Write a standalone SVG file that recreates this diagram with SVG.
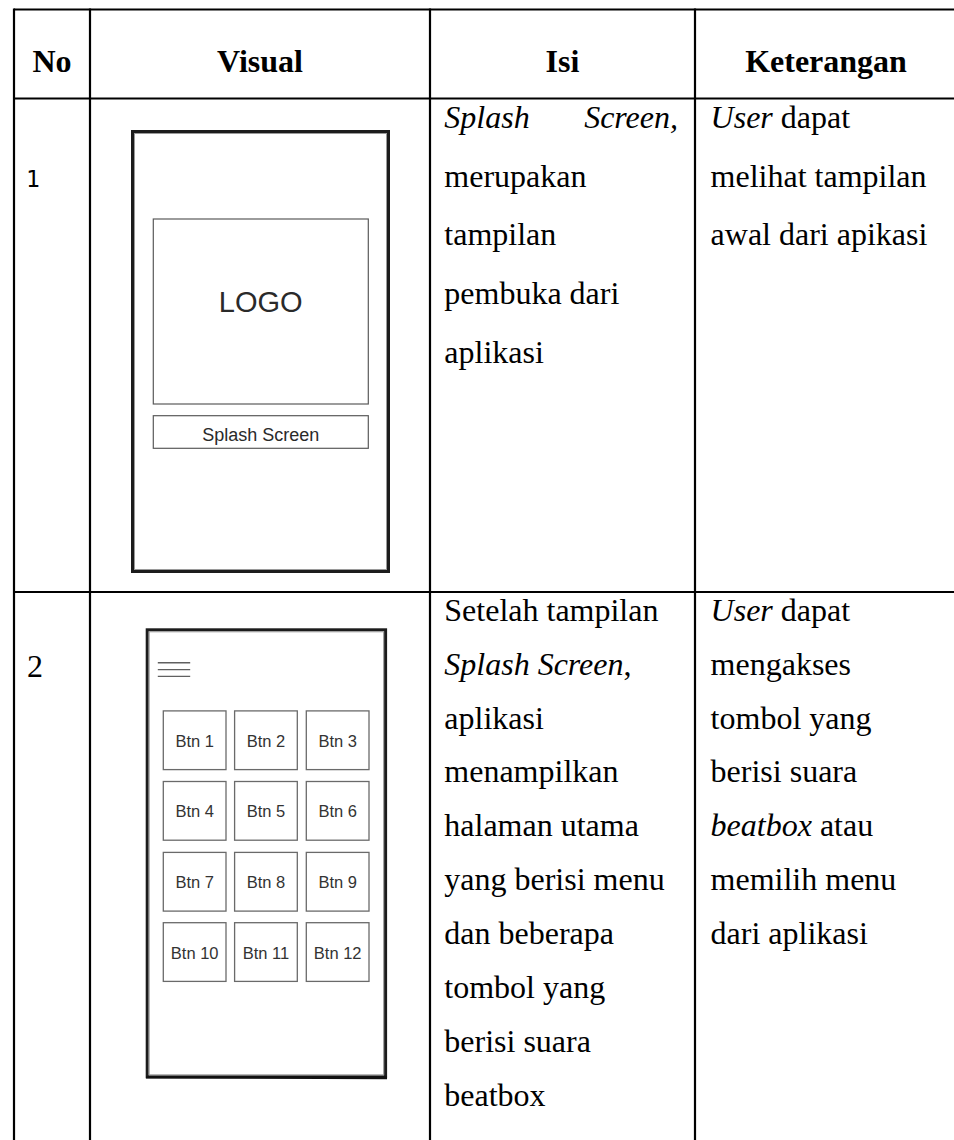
<svg xmlns="http://www.w3.org/2000/svg" width="954" height="1140" viewBox="0 0 954 1140">
  <style>
    .grid { stroke: #000; stroke-width: 2.2; fill: none; }
    .head { font-family: "Liberation Serif", "Times New Roman", serif; font-size: 32px; font-weight: bold; fill: #000; }
    .body { font-family: "Liberation Serif", "Times New Roman", serif; font-size: 32px; fill: #000; }
    .it { font-style: italic; }
    .num1 { font-family: "DejaVu Sans Mono", "Liberation Mono", monospace; font-size: 23px; fill: #000; }
    .frame { fill: #fff; stroke: #1c1c1c; stroke-width: 3; }
    .frameInner { fill: none; stroke: #9a9a9a; stroke-width: 1; }
    .box { fill: #fff; stroke: #5a5a5a; stroke-width: 1.2; }
    .ui { font-family: "Liberation Sans", Arial, sans-serif; fill: #2a2a2a; text-anchor: middle; }
    .btn { fill: #fff; stroke: #6a6a6a; stroke-width: 1.3; }
    .btnText { font-family: "Liberation Sans", Arial, sans-serif; font-size: 16.5px; fill: #333; text-anchor: middle; }
    .menu { stroke: #606060; stroke-width: 1.4; }
  </style>
  <rect width="954" height="1140" fill="#fff"/>

  <!-- table rules -->
  <g id="table-lines" class="grid">
    <line x1="14" y1="9.5" x2="954" y2="9.5"/>
    <line x1="14" y1="98.5" x2="954" y2="98.5"/>
    <line x1="14" y1="592" x2="954" y2="592"/>
    <line x1="14" y1="8.5" x2="14" y2="1140"/>
    <line x1="90" y1="8.5" x2="90" y2="1140"/>
    <line x1="430" y1="8.5" x2="430" y2="1140"/>
    <line x1="695" y1="8.5" x2="695" y2="1140"/>
  </g>

  <!-- header row -->
  <g id="header">
    <text class="head" x="52" y="72" text-anchor="middle">No</text>
    <text class="head" x="260" y="72" text-anchor="middle">Visual</text>
    <text class="head" x="562.5" y="72" text-anchor="middle">Isi</text>
    <text class="head" x="826" y="72" text-anchor="middle">Keterangan</text>
  </g>

  <!-- row 1: splash screen -->
  <g id="row1-no">
    <text class="num1" x="26" y="187">1</text>
  </g>
  <g id="row1-visual">
    <rect class="frame" x="132.5" y="131.5" width="256" height="440"/>
    <rect class="frameInner" x="134.5" y="133.5" width="252" height="436"/>
    <rect class="box" x="153.3" y="219" width="215" height="185"/>
    <text class="ui" x="260.7" y="311.7" font-size="29">LOGO</text>
    <rect class="box" x="153.3" y="415.7" width="215" height="32.6"/>
    <text class="ui" x="260.7" y="440.5" font-size="18">Splash Screen</text>
  </g>
  <g id="row1-isi">
    <text class="body it" x="444.3" y="128">Splash</text>
    <text class="body it" x="678" y="128" text-anchor="end">Screen,</text>
    <text class="body" x="444.3" y="186.7">merupakan</text>
    <text class="body" x="444.3" y="245.4">tampilan</text>
    <text class="body" x="444.3" y="304">pembuka dari</text>
    <text class="body" x="444.3" y="362.7">aplikasi</text>
  </g>
  <g id="row1-keterangan">
    <text class="body" x="710.6" y="128"><tspan class="it">User</tspan> dapat</text>
    <text class="body" x="710.6" y="186.7">melihat tampilan</text>
    <text class="body" x="710.6" y="245.4">awal dari apikasi</text>
  </g>

  <!-- row 2: main page -->
  <g id="row2-no">
    <text class="body" x="27" y="677">2</text>
  </g>
  <g id="row2-visual">
    <rect class="frame" x="147.2" y="629.8" width="238.4" height="447" stroke-width="2.8"/>
    <rect class="frameInner" x="149.2" y="631.8" width="234.4" height="443"/>
    <!-- heavier lower edge of the phone outline -->
    <path d="M146 1076 L387 1076 L387 1079.2 L146 1078.4 Z" fill="#111"/>
    <line class="menu" x1="157.8" y1="662.7" x2="190.2" y2="662.7"/>
    <line class="menu" x1="157.8" y1="669.6" x2="190.2" y2="669.6"/>
    <line class="menu" x1="157.8" y1="676.4" x2="190.2" y2="676.4"/>

    <rect class="btn" x="163.3" y="710.9" width="62.7" height="58.7"/>
    <rect class="btn" x="234.6" y="710.9" width="62.7" height="58.7"/>
    <rect class="btn" x="306.3" y="710.9" width="62.7" height="58.7"/>
    <rect class="btn" x="163.3" y="781.5" width="62.7" height="58.7"/>
    <rect class="btn" x="234.6" y="781.5" width="62.7" height="58.7"/>
    <rect class="btn" x="306.3" y="781.5" width="62.7" height="58.7"/>
    <rect class="btn" x="163.3" y="852.4" width="62.7" height="58.7"/>
    <rect class="btn" x="234.6" y="852.4" width="62.7" height="58.7"/>
    <rect class="btn" x="306.3" y="852.4" width="62.7" height="58.7"/>
    <rect class="btn" x="163.3" y="922.7" width="62.7" height="58.7"/>
    <rect class="btn" x="234.6" y="922.7" width="62.7" height="58.7"/>
    <rect class="btn" x="306.3" y="922.7" width="62.7" height="58.7"/>

    <text class="btnText" x="194.7" y="746.5">Btn 1</text>
    <text class="btnText" x="265.9" y="746.5">Btn 2</text>
    <text class="btnText" x="337.7" y="746.5">Btn 3</text>
    <text class="btnText" x="194.7" y="817">Btn 4</text>
    <text class="btnText" x="265.9" y="817">Btn 5</text>
    <text class="btnText" x="337.7" y="817">Btn 6</text>
    <text class="btnText" x="194.7" y="888">Btn 7</text>
    <text class="btnText" x="265.9" y="888">Btn 8</text>
    <text class="btnText" x="337.7" y="888">Btn 9</text>
    <text class="btnText" x="194.7" y="958.5">Btn 10</text>
    <text class="btnText" x="265.9" y="958.5">Btn 11</text>
    <text class="btnText" x="337.7" y="958.5">Btn 12</text>
  </g>
  <g id="row2-isi">
    <text class="body" x="444.3" y="620.7">Setelah tampilan</text>
    <text class="body" x="444.3" y="674.6"><tspan class="it">Splash Screen</tspan>,</text>
    <text class="body" x="444.3" y="728.5">aplikasi</text>
    <text class="body" x="444.3" y="782.4">menampilkan</text>
    <text class="body" x="444.3" y="836.3">halaman utama</text>
    <text class="body" x="444.3" y="890.2">yang berisi menu</text>
    <text class="body" x="444.3" y="944.1">dan beberapa</text>
    <text class="body" x="444.3" y="998">tombol yang</text>
    <text class="body" x="444.3" y="1051.9">berisi suara</text>
    <text class="body" x="444.3" y="1105.8">beatbox</text>
  </g>
  <g id="row2-keterangan">
    <text class="body" x="710.6" y="620.7"><tspan class="it">User</tspan> dapat</text>
    <text class="body" x="710.6" y="674.6">mengakses</text>
    <text class="body" x="710.6" y="728.5">tombol yang</text>
    <text class="body" x="710.6" y="782.4">berisi suara</text>
    <text class="body" x="710.6" y="836.3"><tspan class="it">beatbox</tspan> atau</text>
    <text class="body" x="710.6" y="890.2">memilih menu</text>
    <text class="body" x="710.6" y="944.1">dari aplikasi</text>
  </g>
</svg>
